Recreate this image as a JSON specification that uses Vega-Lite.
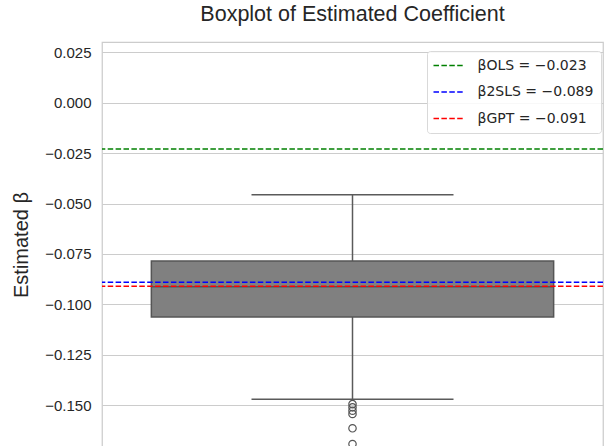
{
  "$schema": "https://vega.github.io/schema/vega-lite/v6.json",
  "autosize": "none",
  "width": 501,
  "height": 405,
  "padding": {"left": 102, "top": 42, "right": 2, "bottom": 0},
  "background": "white",
  "title": {
    "text": "Boxplot of Estimated Coefficient",
    "font": "Liberation Sans",
    "fontSize": 21.5,
    "fontWeight": "normal",
    "color": "#262626",
    "anchor": "middle",
    "baseline": "alphabetic",
    "offset": 0
  },
  "datasets": {
    "box": [{"g": "A", "lower": -0.1471, "q1": -0.1063, "median": -0.0913, "q3": -0.0785, "upper": -0.0456}],
    "outliers": [
      {"g": "A", "value": -0.1495},
      {"g": "A", "value": -0.1511},
      {"g": "A", "value": -0.1528},
      {"g": "A", "value": -0.1544},
      {"g": "A", "value": -0.1615},
      {"g": "A", "value": -0.1693}
    ],
    "refs": [
      {"label": "βOLS = −0.023", "value": -0.023},
      {"label": "β2SLS = −0.089", "value": -0.089},
      {"label": "βGPT = −0.091", "value": -0.091}
    ]
  },
  "encoding": {
    "y": {
      "type": "quantitative",
      "scale": {"domain": [-0.17078, 0.03011], "nice": false, "zero": false},
      "axis": {
        "title": "Estimated β",
        "titleFont": "Liberation Sans",
        "titleFontSize": 20,
        "titleFontWeight": "normal",
        "titleColor": "#262626",
        "titlePadding": 13,
        "values": [-0.15, -0.125, -0.1, -0.075, -0.05, -0.025, 0, 0.025],
        "format": ".3f",
        "labelFont": "Liberation Sans",
        "labelFontSize": 15,
        "labelColor": "#262626",
        "labelPadding": 11,
        "ticks": false,
        "domain": false,
        "grid": true,
        "gridColor": "#cccccc",
        "gridWidth": 1
      }
    }
  },
  "layer": [
    {
      "data": {"name": "box"},
      "mark": {"type": "rule", "color": "#5a5a5a", "strokeWidth": 1.5},
      "encoding": {
        "x": {"field": "g", "type": "nominal", "scale": {"paddingInner": 0, "paddingOuter": 0}, "axis": null},
        "y": {"field": "q3"},
        "y2": {"field": "upper"}
      }
    },
    {
      "data": {"name": "box"},
      "mark": {"type": "rule", "color": "#5a5a5a", "strokeWidth": 1.5},
      "encoding": {
        "x": {"field": "g", "type": "nominal", "axis": null},
        "y": {"field": "lower"},
        "y2": {"field": "q1"}
      }
    },
    {
      "data": {"name": "box"},
      "mark": {"type": "bar", "fill": "#808080", "stroke": "#555555", "strokeWidth": 1.5, "width": {"band": 0.803}},
      "encoding": {
        "x": {"field": "g", "type": "nominal", "axis": null},
        "y": {"field": "q1"},
        "y2": {"field": "q3"}
      }
    },
    {
      "data": {"name": "box"},
      "mark": {"type": "tick", "color": "#555555", "size": 402, "thickness": 1.5, "opacity": 1},
      "encoding": {
        "x": {"field": "g", "type": "nominal", "axis": null},
        "y": {"field": "median"}
      }
    },
    {
      "data": {"name": "box"},
      "mark": {"type": "tick", "color": "#5a5a5a", "size": 202, "thickness": 1.5, "opacity": 1},
      "encoding": {
        "x": {"field": "g", "type": "nominal", "axis": null},
        "y": {"field": "upper"}
      }
    },
    {
      "data": {"name": "box"},
      "mark": {"type": "tick", "color": "#5a5a5a", "size": 202, "thickness": 1.5, "opacity": 1},
      "encoding": {
        "x": {"field": "g", "type": "nominal", "axis": null},
        "y": {"field": "lower"}
      }
    },
    {
      "data": {"name": "outliers"},
      "mark": {"type": "point", "shape": "circle", "filled": false, "stroke": "#555555", "strokeWidth": 1.2, "size": 55, "opacity": 1},
      "encoding": {
        "x": {"field": "g", "type": "nominal", "axis": null},
        "y": {"field": "value"}
      }
    },
    {
      "data": {"name": "refs"},
      "mark": {"type": "rule", "strokeWidth": 1.5, "strokeDash": [5.5, 2.4]},
      "encoding": {
        "y": {"field": "value"},
        "color": {
          "field": "label",
          "type": "nominal",
          "sort": ["βOLS = −0.023", "β2SLS = −0.089", "βGPT = −0.091"],
          "scale": {
            "domain": ["βOLS = −0.023", "β2SLS = −0.089", "βGPT = −0.091"],
            "range": ["#008000", "#0000ff", "#ff0000"]
          },
          "legend": {
            "title": null,
            "orient": "none",
            "legendX": 325,
            "legendY": 9,
            "symbolType": "M-3,0L3,0",
            "symbolDash": [5.5, 2.4],
            "symbolStrokeWidth": 1.5,
            "symbolSize": 100,
            "symbolOffset": 7,
            "labelFont": "DejaVu Sans",
            "labelFontSize": 14,
            "labelColor": "#262626",
            "labelOffset": 22,
            "rowPadding": 12.5,
            "padding": 7.5,
            "fillColor": "rgba(255,255,255,0.85)",
            "strokeColor": "#d9d9d9",
            "cornerRadius": 3
          }
        }
      }
    }
  ],
  "config": {
    "view": {"stroke": "#cccccc", "strokeWidth": 1.25}
  }
}
